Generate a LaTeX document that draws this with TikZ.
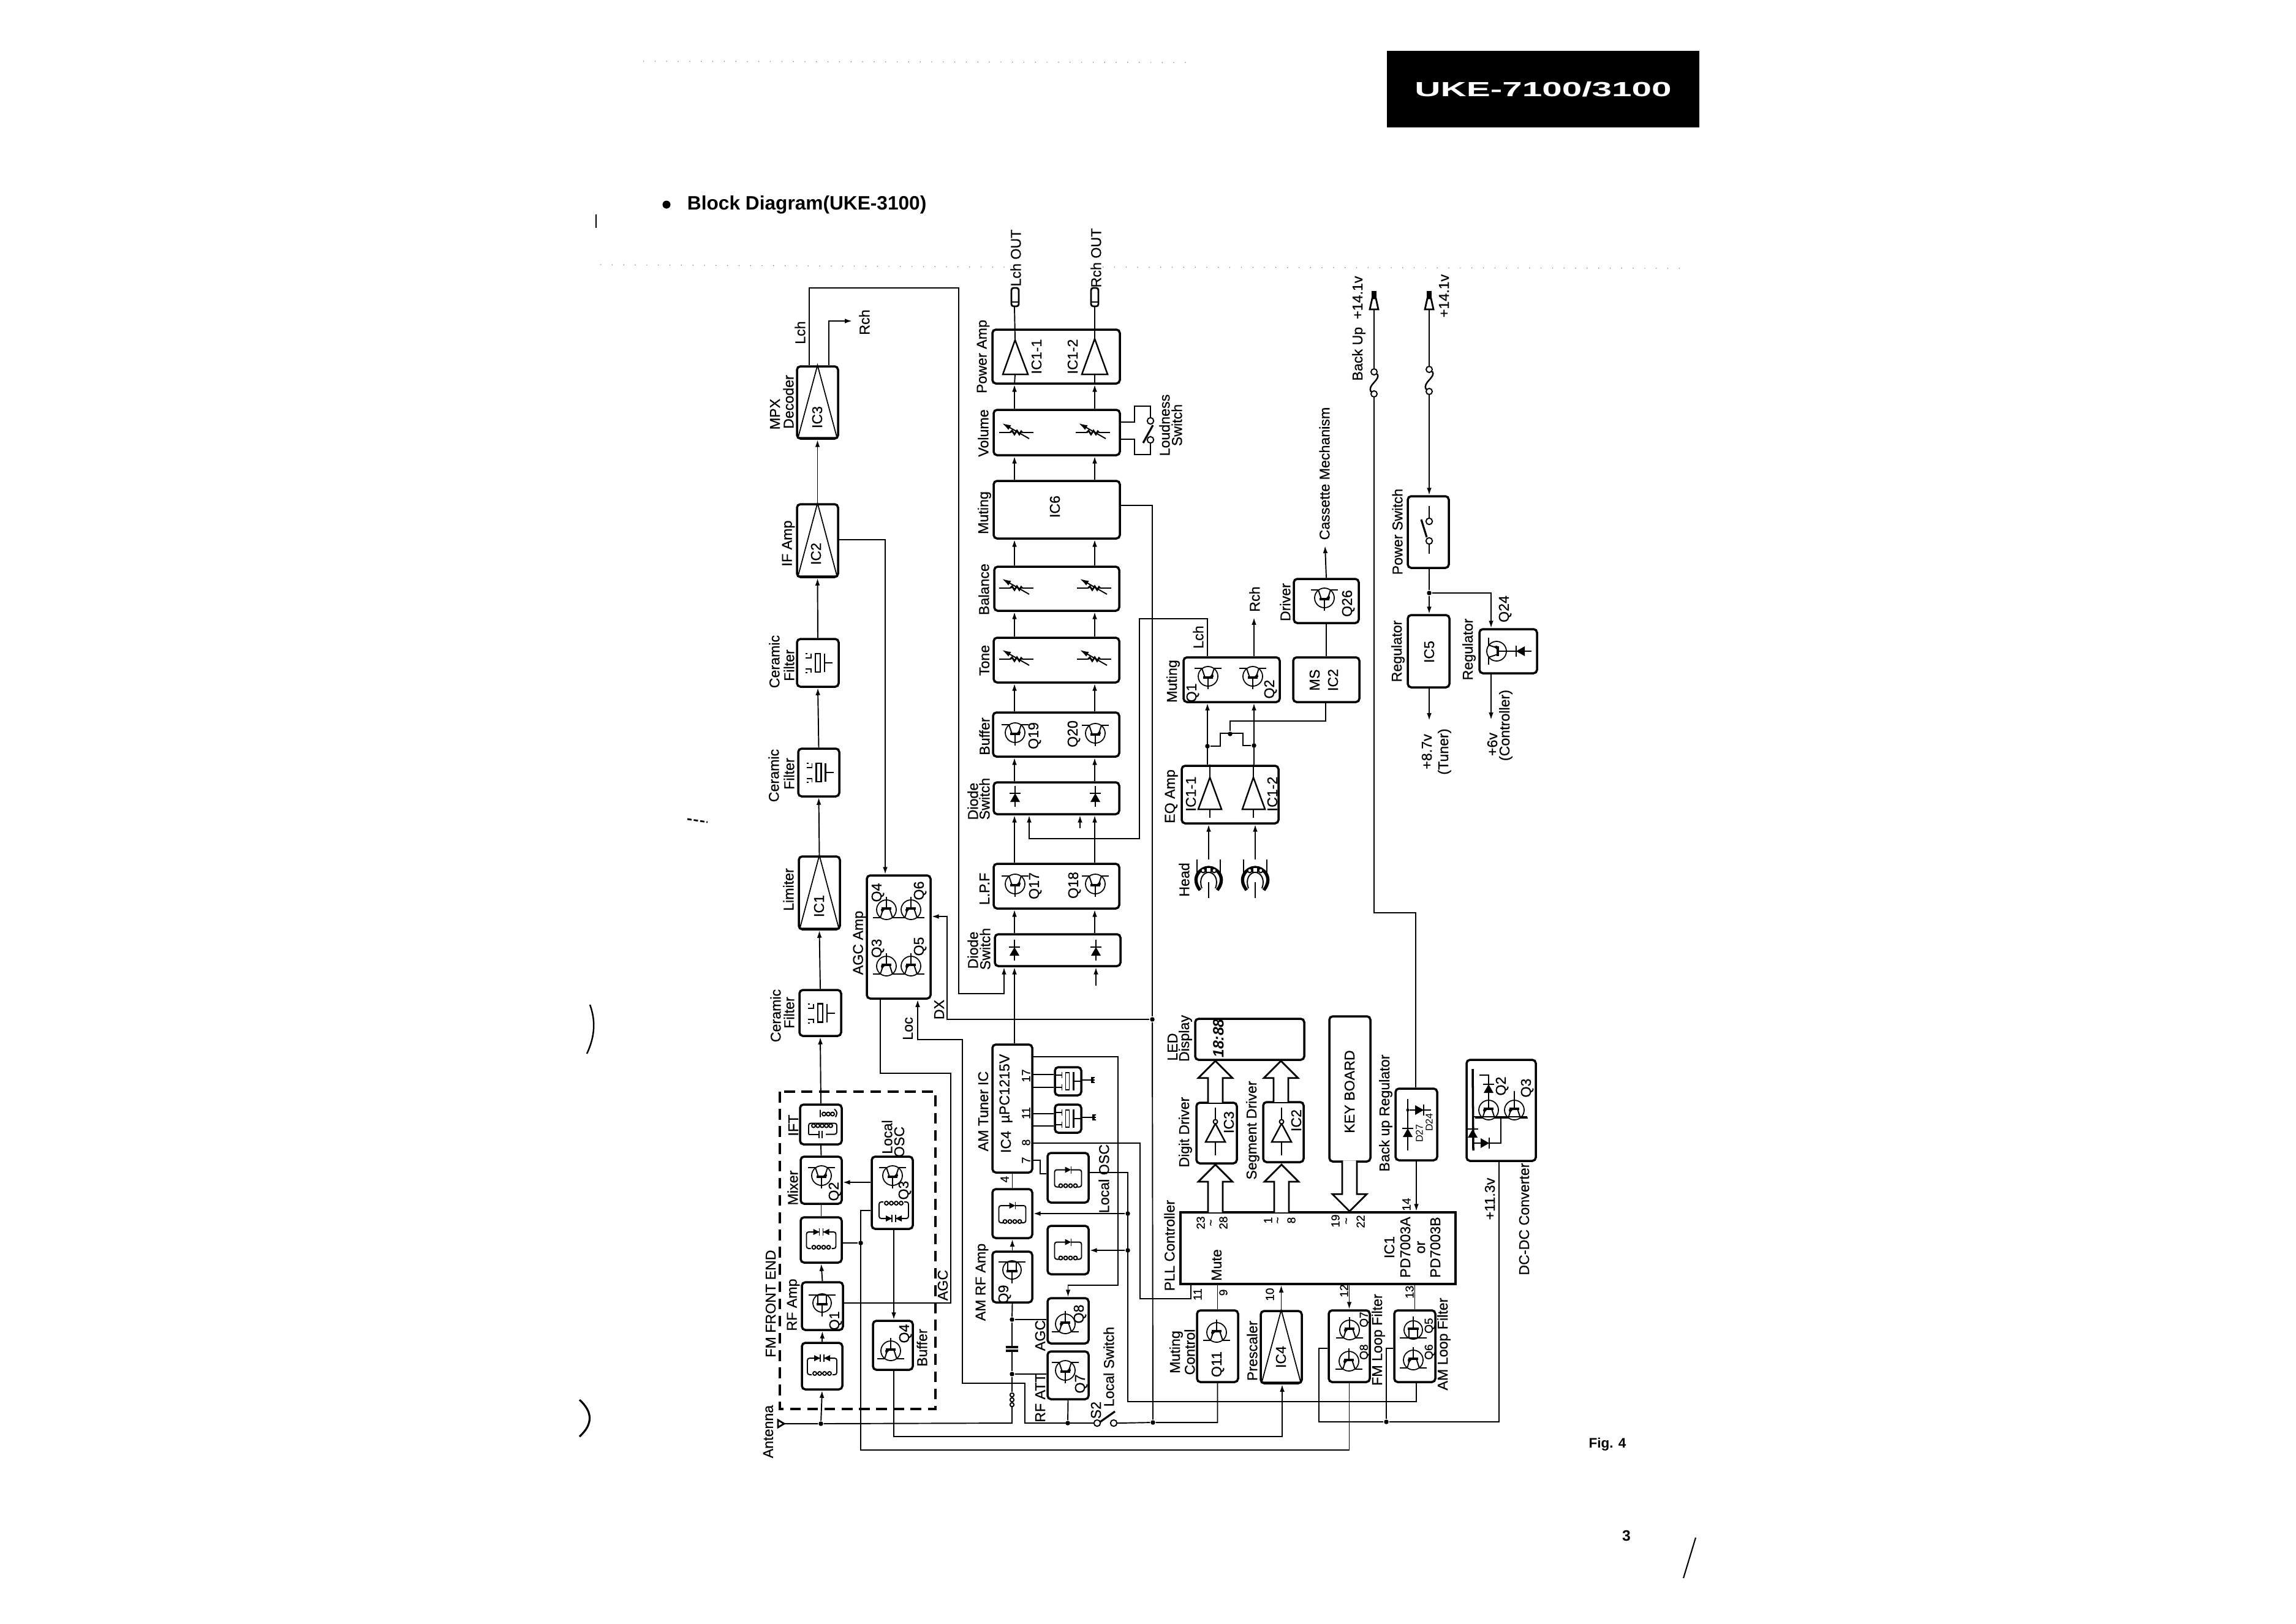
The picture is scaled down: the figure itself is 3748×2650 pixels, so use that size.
\documentclass[tikz,border=0pt]{standalone}
\usepackage{fontspec}
\setmainfont{Liberation Sans}
\newfontfamily\heavyfont[RawFeature={embolden=0.6}]{Liberation Sans}
\usetikzlibrary{arrows.meta, calc}

\tikzset{
  npn/.pic={
    \draw[line width=0.5pt] (0,0) circle [radius=16];
    \draw (0,21) -- (0,2);
    \draw[line width=1pt] (-8,2) -- (8,2);
    \draw (-5,2) -- (-10,-13) (5,2) -- (10,-13);
    \draw (-22,-13) -- (-10,-13) (10,-13) -- (22,-13);
    \fill (8,-5) -- (2,1) -- (9,1) -- cycle;
  },
  jfet/.pic={
    \draw[line width=0.5pt] (0,0) circle [radius=15];
    \draw (0,22) -- (0,2);
    \draw[line width=1pt] (-9,2) -- (9,2);
    \draw (-7,2) -- (-7,-13) (7,2) -- (7,-13);
    \draw (-22,-13) -- (22,-13);
  },
  diode/.pic={
    \draw (0,-17) -- (0,17);
    \draw (-9,-5) -- (9,-5);
    \fill (0,-5) -- (8,9) -- (-8,9) -- cycle;
  },
  varres/.pic={
    \draw (-29,0) -- (-11,0) (9,0) -- (27,0);
    \draw[line width=0.8pt] (-11,0) -- (-8,-3) -- (-4,3) -- (0,-3) -- (4,3) -- (7,-2) -- (9,0);
    \draw[-{Latex[length=4pt,width=2.5pt]}] (20,10) -- (-8,-6) -- (-24,-15);
  },
  ceram/.pic={
    \draw (-20,-8) -- (-11,-8) -- (-11,-15) (-20,-15) -- (-17,-15);
    \draw (-20,10) -- (-11,10) -- (-11,16) (-20,16) -- (-17,16);
    \draw[line width=0.7pt] (-4,-15) rectangle (4,15);
    \draw[line width=0.8pt] (11,-15) -- (11,15);
    \draw (11,0) -- (24,0);
  },
  tank/.pic={
    \draw[rounded corners=1pt] (-4,-13) -- (-22,-13) -- (-22,15) -- (-15,15);
    \draw[rounded corners=1pt] (5,-13) -- (22,-13) -- (22,15) -- (15,15);
    \fill (-5,-18) -- (5,-13) -- (-5,-8) -- cycle;
    \draw (5,-19) -- (5,-7);
    \foreach \i in {-12,-4,4,12} \draw (\i,13) circle [radius=3];
  },
  fmtank/.pic={
    \draw[rounded corners=1pt] (-3,-13) -- (-24,-13) -- (-24,14) -- (-17,14);
    \draw[rounded corners=1pt] (3,-13) -- (24,-13) -- (24,14) -- (17,14);
    \fill (-13,-18) -- (-3,-13) -- (-13,-8) -- cycle;
    \fill (13,-18) -- (3,-13) -- (13,-8) -- cycle;
    \draw (-3,-19) -- (-3,-7) (3,-19) -- (3,-7);
    \foreach \i in {-12,-4,4,12} \draw (\i,12) circle [radius=3];
  },
  iftr/.pic={
    \foreach \i in {5,12,19} \draw (\i,-17) circle [radius=3];
    \draw[rounded corners=1pt] (-1,-24) -- (-1,-12) (24,-12) -- (27,-20) -- (22,-25);
    \draw[rounded corners=1pt] (-20,16) -- (-20,-2) -- (26,-2) -- (26,16) -- (8,16);
    \foreach \i in {-12,-5,2,9,16} \draw (\i,2) circle [radius=3];
    \draw (-20,16) -- (-3,16) (-3,10) -- (-3,22) (2,10) -- (2,22);
  },
  mflt/.pic={
    \draw (-21,-10) -- (-10,-10) (-21,10) -- (-10,10);
    \draw (-10,-15) -- (-10,-5) (-10,5) -- (-10,15);
    \draw (-4,-14) rectangle (2,14);
    \draw[line width=0.8pt] (9,-15) -- (9,15);
    \draw (9,0) -- (21,0);
  },
  gnd/.pic={
    \draw[line width=1pt] (0,-5) -- (0,5);
    \draw (0,-4) -- (4,-4) (0,0) -- (4,0) (0,4) -- (4,4);
  },
  fuse/.pic={
    \draw (0,-18) circle [radius=5] (0,18) circle [radius=5];
    \draw[line width=0.7pt] (5,-15) .. controls (12,-5) and (-12,3) .. (-5,15);
  },
  plugb/.pic={
    \draw[line width=0.8pt] (-7,18) -- (-3,0) -- (3,0) -- (7,18) -- cycle;
    \fill (-4,-12) rectangle (4,0);
  },
  plug/.pic={
    \draw[line width=0.8pt, rounded corners=1pt] (-6,-15) rectangle (6,15);
    \draw (-6,8) -- (6,8);
  },
  head/.pic={
    \draw (-19,-33) -- (-19,-10) (19,-33) -- (19,-10);
    \draw[line width=1.5pt] (-14,17) .. controls (-30,-3) and (-14,-20) .. (0,-20) .. controls (14,-20) and (30,-3) .. (14,17);
    \draw (-11,14) .. controls (-17,-2) and (-8,-12) .. (0,-12) .. controls (8,-12) and (17,-2) .. (11,14);
    \draw[fill=white] (-9,-15) circle [radius=3.5] (9,-15) circle [radius=3.5];
    \draw[fill=white] (-4,-20) rectangle (4,-12);
    \draw[line width=0.8pt] (0,4) -- (0,30);
  },
  bus/.pic={
    \draw[line width=0.8pt, fill=white] (-12,#1) -- (-12,28) -- (-28,28) -- (0,0) -- (28,28) -- (12,28) -- (12,#1);
  },
  inv/.pic={
    \draw (0,-23) -- (0,-4) (0,33) -- (0,55);
    \draw[line width=0.7pt] (0,3) -- (16,33) -- (-16,33) -- cycle;
    \draw[fill=white] (0,0) circle [radius=3.5];
  }
}

\begin{document}
\begin{tikzpicture}[
  x=0.01cm, y=-0.01cm, line width=0.55pt,
  cell/.style 2 args={rectangle, draw, line width=1pt, rounded corners=1.6pt,
                      minimum width=#1*0.01cm, minimum height=#2*0.01cm, inner sep=0pt},
  lab/.style={rotate=90, inner sep=0pt, font=\heavyfont\fontsize{6.6}{7.5}\selectfont},
  pin/.style={rotate=90, inner sep=0pt, font=\heavyfont\fontsize{5.4}{6}\selectfont},
  jn/.style={circle, fill, inner sep=0pt, minimum size=0.75mm},
  term/.style={circle, draw, inner sep=0pt, minimum size=1.05mm},
  sig/.style={-{Latex[length=3.4pt,width=2.2pt]}},
  speck/.style={line width=0.35pt, black!55, dash pattern=on 0.35pt off 5pt}
]
\useasboundingbox (0,0) rectangle (3748,2650);

% page header
\node[cell={506}{121}, fill=black, text=white, rounded corners=0pt, font=\fontsize{9.5}{10}\bfseries\selectfont]
      (hdr) at (2519,145.5) {\scalebox{1.75}[1]{UKE-7100/3100}};
\node[circle, fill, inner sep=0pt, minimum size=1.3mm] (bul) at (1088,334) {};
\node[anchor=west, inner sep=0pt, font=\fontsize{9}{10}\bfseries\selectfont] (ttl) at (1121,334) {Block Diagram(UKE-3100)};
\node[inner sep=0pt, font=\fontsize{6.4}{7}\bfseries\selectfont] (fig) at (2624,2358) {Fig. 4};
\node[inner sep=0pt, font=\fontsize{7}{8}\bfseries\selectfont] (pgn) at (2655,2507) {3};

% marks on the sheet
\draw[speck] (1050,100) -- (1940,102);
\draw[speck] (980,432) -- (1640,436) (1800,436) -- (2750,438);
\draw[line width=0.9pt] (946,2285) .. controls (968,2305) and (968,2325) .. (946,2345);
\draw[line width=0.7pt] (963,1640) .. controls (972,1665) and (972,1690) .. (958,1720);
\draw[line width=0.6pt] (973,350) -- (973,372);
\draw[line width=0.6pt] (2768,2510) -- (2748,2576);
\draw[line width=0.8pt, dash pattern=on 2pt off 1pt] (1122,1337) -- (1155,1342);

% FM tuner chain
\node[cell={67}{118}] (mpx)   at (1334.5,657)  {};
\node[cell={67}{119}] (ifamp) at (1334.5,882.5) {};
\node[cell={68}{78}]  (cer3)  at (1335,1082)   {};
\node[cell={67}{78}]  (cer2)  at (1336.5,1261) {};
\node[cell={67}{119}] (lim)   at (1337.5,1457.5) {};
\node[cell={68}{75}]  (cer1)  at (1339,1653.5) {};
\node[cell={68}{65}]  (ift)   at (1340,1835.5) {};
\node[cell={67}{77}]  (mix)   at (1340.5,1926.5) {};
\node[cell={67}{74}]  (fmtk)  at (1340.5,2024) {};
\node[cell={67}{78}]  (rfa)   at (1342.5,2132) {};
\node[cell={66}{76}]  (fmin)  at (1342,2230)   {};
\node[cell={67}{118}] (lo)    at (1456.5,1947) {};
\node[cell={65}{80}]  (bufq)  at (1457.5,2196) {};
\node[cell={104}{201}] (agc)  at (1467,1529.5) {};
\draw[line width=0.9pt, dash pattern=on 5pt off 3pt] (1273,1782) rectangle (1527,2300);

% audio channels
\coordinate (lch) at (1656,0);
\coordinate (rch) at (1787,0);
\node[cell={208}{88}] (pwr)  at (1724,582)    {};
\node[cell={206}{74}] (vol)  at (1725,706)    {};
\node[cell={206}{94}] (ic6)  at (1725,832)    {};
\node[cell={204}{72}] (bal)  at (1725,961)    {};
\node[cell={205}{73}] (tone) at (1724.5,1077.5) {};
\node[cell={206}{72}] (bfr)  at (1724,1199)   {};
\node[cell={205}{52}] (dsw2) at (1724.5,1303) {};
\node[cell={205}{73}] (lpf)  at (1724.5,1446.5) {};
\node[cell={205}{52}] (dsw1) at (1726.5,1551) {};

% AM tuner
\node[cell={65}{209}] (tun)  at (1652.5,1809.5) {};
\node[cell={67}{81}]  (tk1)  at (1743.5,1922.5) {};
\node[cell={65}{80}]  (tk2)  at (1652.5,1981)   {};
\node[cell={65}{83}]  (q9b)  at (1652.5,2084.5) {};
\node[cell={67}{79}]  (tk3)  at (1743.5,2040.5) {};
\node[cell={67}{74}]  (q8b)  at (1743.5,2156)   {};
\node[cell={67}{78}]  (q7b)  at (1743.5,2245)   {};
\node[cell={43}{46}]  (flt1) at (1743.5,1765)   {};
\node[cell={43}{46}]  (flt2) at (1743.5,1826)   {};

% controller and display
\node[cell={449}{117}, rounded corners=0pt] (ic1) at (2151.5,2037.5) {};
\node[cell={178}{67}]  (led) at (2040,1696.5)  {};
\node[cell={66}{99}]   (dig) at (1986,1849.5)  {};
\node[cell={66}{98}]   (seg) at (2095,1848)    {};
\node[cell={67}{237}]  (key) at (2203.5,1777.5) {};
\node[cell={68}{117}]  (breg) at (2312,1835.5) {};
\node[cell={67}{117}]  (q11) at (1987.5,2197.5) {};
\node[cell={67}{118}]  (pre) at (2091.5,2199)  {};
\node[cell={67}{117}]  (fml) at (2202.5,2197.5) {};
\node[cell={67}{117}]  (aml) at (2309.5,2197.5) {};
\node[cell={113}{165}] (dcdc) at (2450.5,1812.5) {};

% cassette deck
\node[cell={157}{73}]  (mut) at (2010.5,1109.5) {};
\node[cell={158}{94}]  (eq)  at (2008,1297)    {};
\node[cell={106}{72}]  (drv) at (2165,981)     {};
\node[cell={108}{73}]  (ms)  at (2165,1109.5)  {};

% power supply
\node[cell={67}{117}] (psw) at (2331.5,868.5) {};
\node[cell={68}{118}] (ic5) at (2332,1063)    {};
\node[cell={94}{72}]  (q24b) at (2462,1063)   {};

% symbols of the FM section
\foreach \b in {mpx,ifamp,lim}
  \draw[line width=0.5pt] (\b.north) -- ([xshift=1pt,yshift=1pt]\b.south west) -- ([xshift=-1pt,yshift=1pt]\b.south east) -- cycle;
\pic at (cer3) {ceram}; \pic at (cer2) {ceram}; \pic at (cer1) {ceram};
\pic at (ift) {iftr};
\pic at (1341,1919) {npn};
\pic at (fmtk) {fmtank};
\pic at (1342,2127) {jfet};
\pic at (fmin) {fmtank};
\pic at (1457,1919) {npn};
\pic[yscale=-1] at (1459,1976) {fmtank};
\pic[rotate=180] at (1454,2205) {npn};
\pic[rotate=180] at (1447,1485) {npn};
\pic[rotate=180] at (1487,1485) {npn};
\pic[rotate=180] at (1447,1577) {npn};
\pic[rotate=180] at (1487,1577) {npn};

\node[lab] (tmpx) at (1265,676) {MPX};
\node[lab] (tdec) at (1287,656) {Decoder};
\node[lab] (tif)  at (1287,887) {IF Amp};
\node[lab] (tce3) at (1264,1080) {Ceramic};
\node[lab] (tfi3) at (1288,1086) {Filter};
\node[lab] (tce2) at (1263,1266) {Ceramic};
\node[lab] (tfi2) at (1288,1263) {Filter};
\node[lab] (tlim) at (1287,1452) {Limiter};
\node[lab] (tce1) at (1266,1658) {Ceramic};
\node[lab] (tfi1) at (1288,1653) {Filter};
\node[lab] (tift) at (1295,1837) {IFT};
\node[lab] (tmix) at (1294,1939) {Mixer};
\node[lab] (trfa) at (1295,2130) {RF Amp};
\node[lab] (tfe)  at (1258,2128) {FM FRONT END};
\node[lab] (tant) at (1254,2337) {Antenna};
\node[lab] (tlo1) at (1448,1856) {Local};
\node[lab] (tlo2) at (1468,1864) {OSC};
\node[lab] (tbuf) at (1505,2200) {Buffer};
\node[lab] (tagx) at (1539,2098) {AGC};
\node[lab] (tagc) at (1403,1539) {AGC Amp};
\node[lab] (tloc) at (1482,1679) {Loc};
\node[lab] (tdx)  at (1533,1648) {DX};
\node[lab] (tlc)  at (1306,543) {Lch};
\node[lab] (trc)  at (1411,526) {Rch};
\node[lab] (ic3a) at (1334,681) {IC3};
\node[lab] (ic2a) at (1332,904) {IC2};
\node[lab] (ic1a) at (1337,1479) {IC1};
\node[lab] (qq2)  at (1363,1945) {Q2};
\node[lab] (qq1)  at (1364,2156) {Q1};
\node[lab] (qq3)  at (1477,1943) {Q3};
\node[lab] (qq4)  at (1478,2177) {Q4};
\node[lab] (qa4)  at (1433,1457) {Q4};
\node[lab] (qa6)  at (1502,1454) {Q6};
\node[lab] (qa3)  at (1433,1548) {Q3};
\node[lab] (qa5)  at (1502,1545) {Q5};

% audio wiring
\draw[sig] (dsw1.north -| lch) -- (lpf.south -| lch);
\draw[sig] (dsw1.north -| rch) -- (lpf.south -| rch);
\draw[sig] (lpf.north -| lch) -- (dsw2.south -| lch);
\draw[sig] (lpf.north -| rch) -- (dsw2.south -| rch);
\draw[sig] (dsw2.north -| lch) -- (bfr.south -| lch);
\draw[sig] (dsw2.north -| rch) -- (bfr.south -| rch);
\draw[sig] (bfr.north -| lch) -- (tone.south -| lch);
\draw[sig] (bfr.north -| rch) -- (tone.south -| rch);
\draw[sig] (tone.north -| lch) -- (bal.south -| lch);
\draw[sig] (tone.north -| rch) -- (bal.south -| rch);
\draw[sig] (bal.north -| lch) -- (ic6.south -| lch);
\draw[sig] (bal.north -| rch) -- (ic6.south -| rch);
\draw[sig] (ic6.north -| lch) -- (vol.south -| lch);
\draw[sig] (ic6.north -| rch) -- (vol.south -| rch);
\draw[sig] (vol.north -| lch) -- (pwr.south -| lch);
\draw[sig] (vol.north -| rch) -- (pwr.south -| rch);

\draw[line width=0.7pt] (1637,611) -- (1657,555) -- (1678,611) -- cycle;
\draw[line width=0.7pt] (1766,611) -- (1787,553) -- (1808,611) -- cycle;
\draw (1657,611) -- (pwr.south -| lch);
\draw (1787,611) -- (pwr.south -| rch);
\pic at (1657,485) {plug};
\pic at (1787,485) {plug};
\draw (1657,555) -- (1656,500);
\draw (1787,553) -- (1787,500);

\pic at (1660,706) {varres};
\pic at (1785,706) {varres};
\pic at (1660,960) {varres};
\pic at (1787,960) {varres};
\pic at (1660,1076) {varres};
\pic at (1787,1076) {varres};
\pic at (1657,1196) {npn};
\pic at (1788,1197) {npn};
\pic at (1657,1443) {npn};
\pic at (1788,1443) {npn};
\pic at (1657,1300) {diode};
\pic at (1788,1300) {diode};
\pic at (1656,1551) {diode};
\pic at (1789,1551) {diode};

\node[lab] (tlo)  at (1658,421) {Lch OUT};
\node[lab] (tro)  at (1789,421) {Rch OUT};
\node[lab] (tpw)  at (1605,582) {Power Amp};
\node[lab] (tvo)  at (1605,707) {Volume};
\node[lab] (tmu)  at (1607,837) {Muting};
\node[lab] (tba)  at (1606,962) {Balance};
\node[lab] (tto)  at (1607,1078) {Tone};
\node[lab] (tbu)  at (1607,1202) {Buffer};
\node[lab] (td2)  at (1588,1308) {Diode};
\node[lab] (ts2)  at (1607,1304) {Switch};
\node[lab] (tlp)  at (1607,1451) {L.P.F};
\node[lab] (td1)  at (1588,1551) {Diode};
\node[lab] (ts1)  at (1608,1549) {Switch};
\node[lab] (tld)  at (1901,694) {Loudness};
\node[lab] (tsw)  at (1921,694) {Switch};
\node[lab] (ic6a) at (1722,827) {IC6};
\node[lab] (ic11) at (1692,582) {IC1-1};
\node[lab] (ic12) at (1751,582) {IC1-2};
\node[lab] (q19)  at (1689,1201) {Q19};
\node[lab] (q20)  at (1753,1198) {Q20};
\node[lab] (q17)  at (1690,1446) {Q17};
\node[lab] (q18)  at (1754,1445) {Q18};

% loudness switch
\node[term] (swa) at (1878,687) {};
\node[term] (swb) at (1878,718) {};
\draw (vol.east |- 0,689) -| (1852,663) -| (swa.north);
\draw (vol.east |- 0,717) -| (1852,742) -| (swb.south);
\draw[line width=0.9pt] (1866,723) -- (1882,694);

% FM tuner wiring
\node[jn] (jant) at (1340,2324) {};
\node[jn] (jfm)  at (1405,2029) {};
\coordinate (ant) at (1280,2324);
\draw[line width=0.8pt] (ant) -- (1270,2318) -- (1270,2330) -- cycle;
\draw[sig] (jant) -- (fmin.south);
\draw[sig] (fmin.north) -- (rfa.south);
\draw[sig] (rfa.north) -- (fmtk.south);
\draw (fmtk.north) -- (mix.south);
\draw (mix.north) -- (ift.south);
\draw[sig] (ift.north) -- (cer1.south);
\draw[sig] (cer1.north) -- (lim.south);
\draw[sig] (lim.north) -- (cer2.south);
\draw[sig] (cer2.north) -- (cer3.south);
\draw[sig] (cer3.north) -- (ifamp.south);
\draw[sig] (ifamp.north) -- (mpx.south);
\draw[sig] (ifamp.east |- 0,881) -| (1445,0 |- agc.north);
\draw[sig] (1321,0 |- mpx.north) |- (1565,470) |- (1639,1622) -- (1639,0 |- dsw1.south);
\draw[sig] (1353,0 |- mpx.north) |- (1391,524);
\draw[sig] (lo.west |- 0,1930) -- (mix.east |- 0,1930);
\draw (lo.west |- 0,1976) -| (1405,2367) -| (fml.south);
\draw (fmtk.east |- jfm) -- (jfm);
\draw[sig] (1459,0 |- lo.south) -- (1459,0 |- bufq.north);
\draw[sig] (1459,0 |- bufq.south) |- (2093,2345) -- (2093,0 |- pre.south);
\draw (rfa.east |- 0,2127) -| (1552,1752) -| (1437,0 |- agc.south);

% AM tuner symbols and wiring
\pic at (tk1) {tank};
\pic at (tk2) {tank};
\pic at (tk3) {tank};
\pic at (1652,2073) {jfet};
\pic[rotate=180] at (1739,2161) {npn};
\pic at (1739,2237) {npn};
\pic at (flt1) {mflt};
\pic at (flt2) {mflt};
\pic at (1783,1763) {gnd};
\pic at (1785,1824) {gnd};

\node[jn] (j1)   at (1841,1981) {};
\node[jn] (j2)   at (1841,2041) {};
\node[jn] (jq8)  at (1652,2154) {};
\node[jn] (jq7a) at (1652,2243) {};
\node[jn] (jq7)  at (1743,2323) {};
\node[jn] (jsw)  at (1882,2322) {};
\node[jn] (jdx)  at (1881,1664) {};
\node[term] (s2a) at (1791,2323) {};
\node[term] (s2b) at (1818,2323) {};
\draw[line width=0.9pt] (1796,2321) -- (1820,2304);

\draw[sig] (tun.north -| lch) -- (dsw1.south -| lch);
\draw[sig] (1789,1609) -- (1789,0 |- dsw1.south);
\draw[sig] (1763,1352) -- (1763,0 |- dsw2.south);
\draw[sig] (1971,0 |- mut.north) |- (1860,1010) |- (1680,1369) -- (1680,0 |- dsw2.south);
\draw (ic6.east |- 0,825) -| (jdx);
\draw (jdx) -- (jsw);
\draw[sig] (jdx) -| (1546,1496) -- (agc.east |- 0,1496);
\draw[sig] (s2a.west) -| (1673,2258) -| (1571,1697) -| (1498,0 |- agc.south);
\draw (ant) -- (jant) -- (1652,2323) -- (1652,2297);
\draw (1652,2272) -- (jq7a);
\foreach \i in {2277,2285,2293} \draw (1652,\i) circle [radius=3.2];
\draw (jq7a) -- (q7b.west |- jq7a);
\draw (jq7a) -- (1652,2205);
\draw[line width=0.9pt] (1642,2205) -- (1662,2205) (1642,2199) -- (1662,2199);
\draw (1652,2199) -- (jq8);
\draw (jq8) -- (q8b.west |- jq8);
\draw (q9b.south) -- (jq8);
\draw[sig] (q9b.north) -- (tk2.south);
\draw (tk2.north) -- (tun.south);
\draw (q7b.south) -- (jq7);
\draw[sig] (tun.east |- 0,1725) -| (1825,2098) -| (q8b.north);
\draw (tun.east |- 0,1866) -| (1861,2120) -| (1944,0 |- ic1.south);
\draw (tun.east |- 0,1894) -| (1698,1916) -- (tk1.west |- 0,1916);
\draw (tun.east |- 0,1754) -- (flt1.west |- 0,1754);
\draw (tun.east |- 0,1775) -- (flt1.west |- 0,1775);
\draw (tun.east |- 0,1818) -- (flt2.west |- 0,1818);
\draw (tun.east |- 0,1838) -- (flt2.west |- 0,1838);
\draw (flt1.east |- 0,1763) -- (1783,1763);
\draw (flt2.east |- 0,1824) -- (1785,1824);
\draw (tk1.east |- 0,1914) -| (1841,2288) -| (2312,0 |- aml.south);
\draw[sig] (j1) -- (tk2.east |- j1);
\draw[sig] (j2) -- (tk3.east |- j2);
\draw (s2b.east) -- (jsw) -| (q11.south);

\node[lab] (tam)  at (1605,1814) {AM Tuner IC};
\node[lab] (ic4u) at (1642,1864) {IC4};
\node[lab] (upc)  at (1642,1777) {µPC1215V};
\node[pin] (p17)  at (1675,1756) {17};
\node[pin] (p11a) at (1675,1817) {11};
\node[pin] (p8a)  at (1675,1865) {8};
\node[pin] (p7a)  at (1675,1894) {7};
\node[pin] (p4a)  at (1640,1925) {4};
\node[lab] (tlos) at (1802,1924) {Local OSC};
\node[lab] (tarf) at (1603,2093) {AM RF Amp};
\node[lab] (tagm) at (1698,2180) {AGC};
\node[lab] (tatt) at (1698,2282) {RF ATT};
\node[lab] (q9t)  at (1640,2113) {Q9};
\node[lab] (q8t)  at (1763,2145) {Q8};
\node[lab] (q7t)  at (1765,2259) {Q7};
\node[lab] (s2t)  at (1789,2302) {S2};
\node[lab] (tlsw) at (1810,2231) {Local Switch};

% controller symbols and wiring
\draw[line width=0.5pt] (pre.north) -- ([xshift=1pt,yshift=1pt]pre.south west) -- ([xshift=-1pt,yshift=1pt]pre.south east) -- cycle;
\pic at (led.south -| 1984,0) {bus=68};
\pic at (1984,1901) {bus=78};
\pic at (led.south -| 2091,0) {bus=67};
\pic at (2092,1901) {bus=78};
\pic[rotate=180] at (ic1.north -| 2203,0) {bus=83};
\pic at (1984,1831) {inv};
\pic at (2092,1831) {inv};
\pic[rotate=180] at (1986,2175) {npn};
\pic[rotate=180] at (2203,2171) {npn};
\pic[rotate=180] at (2202,2222) {npn};
\pic[rotate=180] at (2307,2171) {jfet};
\pic[rotate=180] at (2307,2220) {npn};

\draw (q11.north) -- (q11.north |- ic1.south);
\draw[sig] (pre.north) -- (pre.north |- ic1.south);
\draw[sig] (fml.north |- ic1.south) -- (fml.north);
\draw (aml.north |- ic1.south) -- (aml.north);
\draw[sig] (breg.south) -- (breg.south |- ic1.north);
\node[jn] (jdc) at (2263,2321) {};
\draw (fml.west |- 0,2201) -| (2153,2321) -- (jdc);
\draw (aml.west |- 0,2201) -| (jdc);
\draw (jdc) -| (2447,0 |- dcdc.south);

% regulator and converter insides
\draw (2298,1794) -- (2298,1878);
\node[jn, minimum size=0.5mm] (jbr) at (2298,1812) {};
\draw (jbr) -- (2333,1812);
\pic[rotate=-90] at (2319,1812) {diode};
\pic at (2298,1847) {diode};
\draw[line width=1pt] (2404,1745) -- (2405,1878);
\pic at (2404,1848) {diode};
\pic[rotate=180] at (2430,1812) {npn};
\pic[rotate=180] at (2472,1812) {npn};
\draw (2405,1823) -- (2493,1823);
\draw (2450,1823) |- (2405,1866);
\pic[rotate=-90] at (2426,1866) {diode};
\draw (2430,1792) -- (2430,1755) -- (2415,1755);
\pic at (2430,1775) {diode};
\draw (2472,1792) -- (2472,1781);

\node[lab, font=\fontsize{7}{8}\bfseries\itshape\selectfont] (seven) at (1989,1695) {18:88};
\node[lab] (tled) at (1914,1709) {LED};
\node[lab] (tdis) at (1935,1695) {Display};
\node[lab] (tdig) at (1935,1848) {Digit Driver};
\node[lab] (tseg) at (2045,1845) {Segment Driver};
\node[lab] (ic3b) at (2006,1832) {IC3};
\node[lab] (ic2b) at (2116,1829) {IC2};
\node[lab] (tkey) at (2203,1782) {KEY BOARD};
\node[lab] (tbrg) at (2262,1817) {Back up Regulator};
\node[pin, font=\fontsize{4.6}{5}\selectfont] (d27) at (2317,1850) {D27};
\node[pin, font=\fontsize{4.6}{5}\selectfont] (d24) at (2333,1832) {D24};
\node[lab] (tpll) at (1909,2033) {PLL Controller};
\node[pin] (p23)  at (1960,1996) {23};
\node[pin] (pt1)  at (1979,1996) {\textasciitilde};
\node[pin] (p28)  at (1997,1996) {28};
\node[pin] (p1)   at (2070,1992) {1};
\node[pin] (pt2)  at (2088,1992) {\textasciitilde};
\node[pin] (p8)   at (2108,1992) {8};
\node[pin] (p19)  at (2180,1993) {19};
\node[pin] (pt3)  at (2200,1993) {\textasciitilde};
\node[pin] (p22)  at (2221,1994) {22};
\node[pin] (p14)  at (2296,1966) {14};
\node[lab] (tmte) at (1986,2065) {Mute};
\node[lab] (ic1t) at (2268,2036) {IC1};
\node[lab] (pd7a) at (2294,2036) {PD7003A};
\node[lab] (tor)  at (2320,2036) {or};
\node[lab] (pd7b) at (2343,2036) {PD7003B};
\node[pin] (p11)  at (1955,2113) {11};
\node[pin] (p9)   at (1997,2110) {9};
\node[pin] (p10)  at (2073,2113) {10};
\node[pin] (p12)  at (2194,2107) {12};
\node[pin] (p13)  at (2301,2109) {13};
\node[lab] (tmc1) at (1920,2207) {Muting};
\node[lab] (tmc2) at (1942,2207) {Control};
\node[lab] (q11t) at (1988,2227) {Q11};
\node[lab] (tpre) at (2044,2205) {Prescaler};
\node[lab] (ic4p) at (2091,2215) {IC4};
\node[lab] (tfml) at (2250,2187) {FM Loop Filter};
\node[lab] (taml) at (2357,2194) {AM Loop Filter};
\node[pin] (q7f)  at (2228,2154) {Q7};
\node[pin] (q8f)  at (2228,2207) {Q8};
\node[pin] (q5a)  at (2334,2164) {Q5};
\node[pin] (q6a)  at (2334,2207) {Q6};
\node[lab] (t113) at (2432,1957) {+11.3v};
\node[lab] (tdcc) at (2488,1990) {DC-DC Converter};
\node[lab] (q2d)  at (2452,1773) {Q2};
\node[lab] (q3d)  at (2493,1776) {Q3};

% cassette symbols and wiring
\pic at (1972,1104) {npn};
\pic at (2045,1104) {npn};
\pic at (2162,976) {npn};
\draw[line width=0.7pt] (1956,1321) -- (1975,1269) -- (1994,1321) -- cycle;
\draw[line width=0.7pt] (2028,1321) -- (2046,1269) -- (2065,1321) -- cycle;
\draw (1975,1269) -- (1975,0 |- eq.north) (1975,1321) -- (1975,1335);
\draw (2046,1269) -- (2046,0 |- eq.north) (2046,1321) -- (2046,1335);
\pic at (1973,1436) {head};
\pic at (2049,1436) {head};
\draw[sig] (1973,1403) -- (1973,0 |- eq.south);
\draw[sig] (2049,1403) -- (2049,0 |- eq.south);

\node[jn] (jql) at (1971,1218) {};
\node[jn] (jqr) at (2047,1217) {};
\node[jn] (jqm) at (2008,1198) {};
\draw[sig] (1971,0 |- eq.north) -- (1971,0 |- mut.south);
\draw[sig] (2047,0 |- eq.north) -- (2047,0 |- mut.south);
\draw (jql) -| (1992,1197) -| (2029,1217) -- (jqr);
\draw (jqm) |- (2164,1177) -- (2164,0 |- ms.south);
\draw[sig] (2047,0 |- mut.north) -- (2047,1008);
\draw (ms.north) -- (drv.south);
\draw[sig] (drv.north) -- (2163,891);

\node[lab] (tmt2) at (1915,1112) {Muting};
\node[lab] (tlc2) at (1956,1040) {Lch};
\node[lab] (trc2) at (2048,978) {Rch};
\node[lab] (q1m)  at (1947,1131) {Q1};
\node[lab] (q2m)  at (2074,1125) {Q2};
\node[lab] (tdrv) at (2098,983) {Driver};
\node[lab] (q26)  at (2201,985) {Q26};
\node[lab] (tms)  at (2146,1110) {MS};
\node[lab] (ic2m) at (2176,1110) {IC2};
\node[lab] (teq)  at (1912,1300) {EQ Amp};
\node[lab] (eq1)  at (1944,1296) {IC1-1};
\node[lab] (eq2)  at (2077,1296) {IC1-2};
\node[lab] (thd)  at (1933,1436) {Head};
\node[lab] (tcas) at (2162,773) {Cassette Mechanism};

% power supply wiring
\node[jn] (jp) at (2333,968) {};
\pic at (2243,487) {plugb};
\pic at (2333,487) {plugb};
\pic at (2243,625) {fuse};
\pic at (2333,621) {fuse};
\draw (2243,505) -- (2243,602);
\draw (2333,505) -- (2333,598);
\draw (2243,648) |- (2311,1490) -- (2311,0 |- breg.north);
\draw[sig] (2333,644) -- (2333,0 |- psw.north);
\draw (2333,0 |- psw.south) -- (jp);
\draw[sig] (jp) -- (2333,0 |- ic5.north);
\draw[sig] (jp) -| (2434,0 |- q24b.north);
\draw[sig] (2333,0 |- ic5.south) -- (2333,1176);
\draw[sig] (2434,0 |- q24b.south) -- (2434,1175);

\node[term] (pa) at (2333,851) {};
\node[term] (pb) at (2333,883) {};
\draw (2333,826) -- (pa.north) (pb.south) -- (2333,904);
\draw[line width=0.9pt] (2329,877) -- (2320,848);
\pic[rotate=90] at (2443,1063) {npn};
\draw (2464,1063) -- (2500,1063);
\pic[rotate=90] at (2480,1063) {diode};

\node[lab] (tbku) at (2218,536) {Back Up\ \ +14.1v};
\node[lab] (tv14) at (2357,483) {+14.1v};
\node[lab] (tpsw) at (2281,868) {Power Switch};
\node[lab] (treg) at (2282,1063) {Regulator};
\node[lab] (trg2) at (2398,1060) {Regulator};
\node[lab] (ic5t) at (2333,1064) {IC5};
\node[lab] (q24t) at (2457,994) {Q24};
\node[lab] (tv87) at (2329,1227) {+8.7v};
\node[lab] (ttun) at (2358,1227) {(Tuner)};
\node[lab] (tv6)  at (2436,1215) {+6v};
\node[lab] (tctl) at (2458,1184) {(Controller)};
\end{tikzpicture}
\end{document}
